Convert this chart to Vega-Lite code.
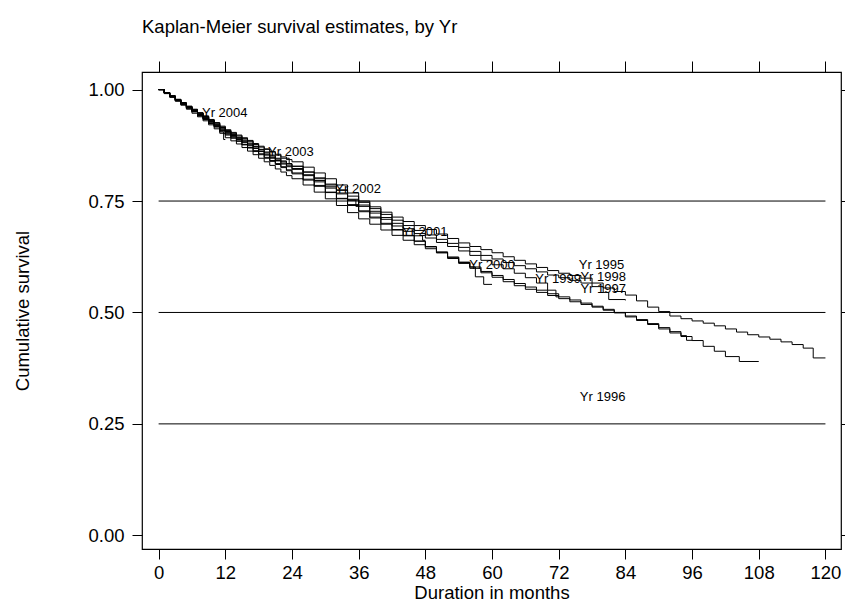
{
  "$schema": "https://vega.github.io/schema/vega-lite/v6.json",
  "autosize": {"type": "none"},
  "width": 699,
  "height": 477,
  "padding": {"left": 142, "top": 72, "right": 4, "bottom": 54},
  "background": "white",
  "title": {
    "text": "Kaplan-Meier survival estimates, by Yr",
    "anchor": "start",
    "frame": "group",
    "baseline": "alphabetic",
    "offset": 9,
    "fontSize": 18.5,
    "fontWeight": "normal",
    "font": "Liberation Sans",
    "color": "#000"
  },
  "datasets": {
    "grid": [{"g": 0.25}, {"g": 0.5}, {"g": 0.75}],
    "labels": [
      {"lab": "Yr 2004", "t": 7.8, "s": 0.947},
      {"lab": "Yr 2003", "t": 19.7, "s": 0.86},
      {"lab": "Yr 2002", "t": 31.8, "s": 0.776},
      {"lab": "Yr 2001", "t": 43.8, "s": 0.68},
      {"lab": "Yr 2000", "t": 55.9, "s": 0.606},
      {"lab": "Yr 1999", "t": 67.8, "s": 0.574},
      {"lab": "Yr 1998", "t": 75.9, "s": 0.579},
      {"lab": "Yr 1995", "t": 75.6, "s": 0.606},
      {"lab": "Yr 1997", "t": 75.9, "s": 0.552},
      {"lab": "Yr 1996", "t": 75.8, "s": 0.31}
    ],
    "km": [
      {"yr": "2004", "t": 0, "s": 1}, {"yr": "2004", "t": 1, "s": 0.992}, {"yr": "2004", "t": 2, "s": 0.983},
      {"yr": "2004", "t": 3, "s": 0.975}, {"yr": "2004", "t": 4, "s": 0.967}, {"yr": "2004", "t": 5, "s": 0.959},
      {"yr": "2004", "t": 6, "s": 0.951}, {"yr": "2004", "t": 7, "s": 0.944}, {"yr": "2004", "t": 8, "s": 0.938},
      {"yr": "2004", "t": 9, "s": 0.928}, {"yr": "2004", "t": 10, "s": 0.918}, {"yr": "2004", "t": 11, "s": 0.905},
      {"yr": "2004", "t": 11.7, "s": 0.888}, {"yr": "2004", "t": 12, "s": 0.888},

      {"yr": "2003", "t": 0, "s": 1}, {"yr": "2003", "t": 1, "s": 0.993}, {"yr": "2003", "t": 2, "s": 0.986},
      {"yr": "2003", "t": 3, "s": 0.978}, {"yr": "2003", "t": 4, "s": 0.97}, {"yr": "2003", "t": 5, "s": 0.962},
      {"yr": "2003", "t": 6, "s": 0.955}, {"yr": "2003", "t": 7, "s": 0.948}, {"yr": "2003", "t": 8, "s": 0.94},
      {"yr": "2003", "t": 9, "s": 0.932}, {"yr": "2003", "t": 10, "s": 0.925}, {"yr": "2003", "t": 11, "s": 0.916},
      {"yr": "2003", "t": 12, "s": 0.908}, {"yr": "2003", "t": 13, "s": 0.902}, {"yr": "2003", "t": 14, "s": 0.896},
      {"yr": "2003", "t": 15, "s": 0.89}, {"yr": "2003", "t": 16, "s": 0.884}, {"yr": "2003", "t": 17, "s": 0.877},
      {"yr": "2003", "t": 18, "s": 0.871}, {"yr": "2003", "t": 19, "s": 0.866}, {"yr": "2003", "t": 20, "s": 0.86},
      {"yr": "2003", "t": 21, "s": 0.853}, {"yr": "2003", "t": 22, "s": 0.846}, {"yr": "2003", "t": 23.5, "s": 0.834},
      {"yr": "2003", "t": 24, "s": 0.834},

      {"yr": "2002", "t": 0, "s": 1}, {"yr": "2002", "t": 1, "s": 0.993}, {"yr": "2002", "t": 2, "s": 0.985},
      {"yr": "2002", "t": 3, "s": 0.977}, {"yr": "2002", "t": 4, "s": 0.969}, {"yr": "2002", "t": 5, "s": 0.961},
      {"yr": "2002", "t": 6, "s": 0.953}, {"yr": "2002", "t": 7, "s": 0.946}, {"yr": "2002", "t": 8, "s": 0.938},
      {"yr": "2002", "t": 9, "s": 0.93}, {"yr": "2002", "t": 10, "s": 0.922}, {"yr": "2002", "t": 11, "s": 0.914},
      {"yr": "2002", "t": 12, "s": 0.906}, {"yr": "2002", "t": 13, "s": 0.899}, {"yr": "2002", "t": 14, "s": 0.892},
      {"yr": "2002", "t": 15, "s": 0.885}, {"yr": "2002", "t": 16, "s": 0.878}, {"yr": "2002", "t": 17, "s": 0.872},
      {"yr": "2002", "t": 18, "s": 0.865}, {"yr": "2002", "t": 19, "s": 0.858}, {"yr": "2002", "t": 20, "s": 0.851},
      {"yr": "2002", "t": 21, "s": 0.844}, {"yr": "2002", "t": 22, "s": 0.838}, {"yr": "2002", "t": 23, "s": 0.833},
      {"yr": "2002", "t": 24, "s": 0.828}, {"yr": "2002", "t": 26, "s": 0.815}, {"yr": "2002", "t": 28, "s": 0.8},
      {"yr": "2002", "t": 30, "s": 0.786}, {"yr": "2002", "t": 32, "s": 0.774}, {"yr": "2002", "t": 34, "s": 0.752},
      {"yr": "2002", "t": 35.5, "s": 0.738}, {"yr": "2002", "t": 36, "s": 0.738},

      {"yr": "2001", "t": 0, "s": 1}, {"yr": "2001", "t": 1, "s": 0.992}, {"yr": "2001", "t": 2, "s": 0.984},
      {"yr": "2001", "t": 3, "s": 0.976}, {"yr": "2001", "t": 4, "s": 0.968}, {"yr": "2001", "t": 5, "s": 0.96},
      {"yr": "2001", "t": 6, "s": 0.951}, {"yr": "2001", "t": 7, "s": 0.943}, {"yr": "2001", "t": 8, "s": 0.935},
      {"yr": "2001", "t": 9, "s": 0.927}, {"yr": "2001", "t": 10, "s": 0.919}, {"yr": "2001", "t": 11, "s": 0.91},
      {"yr": "2001", "t": 12, "s": 0.902}, {"yr": "2001", "t": 13, "s": 0.895}, {"yr": "2001", "t": 14, "s": 0.888},
      {"yr": "2001", "t": 15, "s": 0.881}, {"yr": "2001", "t": 16, "s": 0.874}, {"yr": "2001", "t": 17, "s": 0.868},
      {"yr": "2001", "t": 18, "s": 0.861}, {"yr": "2001", "t": 19, "s": 0.853}, {"yr": "2001", "t": 20, "s": 0.846},
      {"yr": "2001", "t": 21, "s": 0.84}, {"yr": "2001", "t": 22, "s": 0.833}, {"yr": "2001", "t": 23, "s": 0.827},
      {"yr": "2001", "t": 24, "s": 0.821}, {"yr": "2001", "t": 26, "s": 0.807}, {"yr": "2001", "t": 28, "s": 0.793},
      {"yr": "2001", "t": 30, "s": 0.779}, {"yr": "2001", "t": 32, "s": 0.766}, {"yr": "2001", "t": 34, "s": 0.752},
      {"yr": "2001", "t": 36, "s": 0.738}, {"yr": "2001", "t": 38, "s": 0.723}, {"yr": "2001", "t": 40, "s": 0.709},
      {"yr": "2001", "t": 42, "s": 0.694}, {"yr": "2001", "t": 44, "s": 0.682}, {"yr": "2001", "t": 46, "s": 0.672},
      {"yr": "2001", "t": 47.5, "s": 0.662}, {"yr": "2001", "t": 48, "s": 0.662},

      {"yr": "2000", "t": 0, "s": 1}, {"yr": "2000", "t": 1, "s": 0.991}, {"yr": "2000", "t": 2, "s": 0.983},
      {"yr": "2000", "t": 3, "s": 0.974}, {"yr": "2000", "t": 4, "s": 0.965}, {"yr": "2000", "t": 5, "s": 0.956},
      {"yr": "2000", "t": 6, "s": 0.947}, {"yr": "2000", "t": 7, "s": 0.939}, {"yr": "2000", "t": 8, "s": 0.93},
      {"yr": "2000", "t": 9, "s": 0.921}, {"yr": "2000", "t": 10, "s": 0.912}, {"yr": "2000", "t": 11, "s": 0.902},
      {"yr": "2000", "t": 12, "s": 0.892}, {"yr": "2000", "t": 13, "s": 0.885}, {"yr": "2000", "t": 14, "s": 0.878},
      {"yr": "2000", "t": 15, "s": 0.87}, {"yr": "2000", "t": 16, "s": 0.862}, {"yr": "2000", "t": 17, "s": 0.854},
      {"yr": "2000", "t": 18, "s": 0.846}, {"yr": "2000", "t": 19, "s": 0.838}, {"yr": "2000", "t": 20, "s": 0.83},
      {"yr": "2000", "t": 21, "s": 0.822}, {"yr": "2000", "t": 22, "s": 0.815}, {"yr": "2000", "t": 23, "s": 0.807},
      {"yr": "2000", "t": 24, "s": 0.8}, {"yr": "2000", "t": 26, "s": 0.786}, {"yr": "2000", "t": 28, "s": 0.77},
      {"yr": "2000", "t": 30, "s": 0.755}, {"yr": "2000", "t": 32, "s": 0.74}, {"yr": "2000", "t": 34, "s": 0.724},
      {"yr": "2000", "t": 36, "s": 0.71}, {"yr": "2000", "t": 38, "s": 0.698}, {"yr": "2000", "t": 40, "s": 0.685},
      {"yr": "2000", "t": 42, "s": 0.673}, {"yr": "2000", "t": 44, "s": 0.662}, {"yr": "2000", "t": 46, "s": 0.652},
      {"yr": "2000", "t": 48, "s": 0.643}, {"yr": "2000", "t": 50, "s": 0.634}, {"yr": "2000", "t": 52, "s": 0.624},
      {"yr": "2000", "t": 54, "s": 0.613}, {"yr": "2000", "t": 56, "s": 0.602}, {"yr": "2000", "t": 57, "s": 0.58},
      {"yr": "2000", "t": 58.5, "s": 0.563}, {"yr": "2000", "t": 60, "s": 0.563},

      {"yr": "1999", "t": 0, "s": 1}, {"yr": "1999", "t": 1, "s": 0.993}, {"yr": "1999", "t": 2, "s": 0.985},
      {"yr": "1999", "t": 3, "s": 0.977}, {"yr": "1999", "t": 4, "s": 0.969}, {"yr": "1999", "t": 5, "s": 0.96},
      {"yr": "1999", "t": 6, "s": 0.952}, {"yr": "1999", "t": 7, "s": 0.944}, {"yr": "1999", "t": 8, "s": 0.936},
      {"yr": "1999", "t": 9, "s": 0.928}, {"yr": "1999", "t": 10, "s": 0.92}, {"yr": "1999", "t": 11, "s": 0.912},
      {"yr": "1999", "t": 12, "s": 0.904}, {"yr": "1999", "t": 13, "s": 0.897}, {"yr": "1999", "t": 14, "s": 0.89},
      {"yr": "1999", "t": 15, "s": 0.883}, {"yr": "1999", "t": 16, "s": 0.876}, {"yr": "1999", "t": 17, "s": 0.869},
      {"yr": "1999", "t": 18, "s": 0.862}, {"yr": "1999", "t": 19, "s": 0.855}, {"yr": "1999", "t": 20, "s": 0.848},
      {"yr": "1999", "t": 21, "s": 0.841}, {"yr": "1999", "t": 22, "s": 0.835}, {"yr": "1999", "t": 23, "s": 0.829},
      {"yr": "1999", "t": 24, "s": 0.823}, {"yr": "1999", "t": 26, "s": 0.809}, {"yr": "1999", "t": 28, "s": 0.796},
      {"yr": "1999", "t": 30, "s": 0.782}, {"yr": "1999", "t": 32, "s": 0.768}, {"yr": "1999", "t": 34, "s": 0.754},
      {"yr": "1999", "t": 36, "s": 0.741}, {"yr": "1999", "t": 38, "s": 0.727}, {"yr": "1999", "t": 40, "s": 0.713},
      {"yr": "1999", "t": 42, "s": 0.7}, {"yr": "1999", "t": 44, "s": 0.688}, {"yr": "1999", "t": 46, "s": 0.677},
      {"yr": "1999", "t": 48, "s": 0.667}, {"yr": "1999", "t": 50, "s": 0.657}, {"yr": "1999", "t": 52, "s": 0.648},
      {"yr": "1999", "t": 54, "s": 0.638}, {"yr": "1999", "t": 56, "s": 0.628}, {"yr": "1999", "t": 58, "s": 0.617},
      {"yr": "1999", "t": 60, "s": 0.607}, {"yr": "1999", "t": 62, "s": 0.598}, {"yr": "1999", "t": 64, "s": 0.588},
      {"yr": "1999", "t": 66, "s": 0.578}, {"yr": "1999", "t": 68, "s": 0.566}, {"yr": "1999", "t": 70, "s": 0.55},
      {"yr": "1999", "t": 71.5, "s": 0.535}, {"yr": "1999", "t": 72, "s": 0.535},

      {"yr": "1998", "t": 0, "s": 1}, {"yr": "1998", "t": 1, "s": 0.993}, {"yr": "1998", "t": 2, "s": 0.986},
      {"yr": "1998", "t": 3, "s": 0.978}, {"yr": "1998", "t": 4, "s": 0.97}, {"yr": "1998", "t": 5, "s": 0.962},
      {"yr": "1998", "t": 6, "s": 0.954}, {"yr": "1998", "t": 7, "s": 0.947}, {"yr": "1998", "t": 8, "s": 0.939},
      {"yr": "1998", "t": 9, "s": 0.931}, {"yr": "1998", "t": 10, "s": 0.923}, {"yr": "1998", "t": 11, "s": 0.915},
      {"yr": "1998", "t": 12, "s": 0.907}, {"yr": "1998", "t": 13, "s": 0.9}, {"yr": "1998", "t": 14, "s": 0.893},
      {"yr": "1998", "t": 15, "s": 0.887}, {"yr": "1998", "t": 16, "s": 0.88}, {"yr": "1998", "t": 17, "s": 0.873},
      {"yr": "1998", "t": 18, "s": 0.866}, {"yr": "1998", "t": 19, "s": 0.86}, {"yr": "1998", "t": 20, "s": 0.853},
      {"yr": "1998", "t": 21, "s": 0.846}, {"yr": "1998", "t": 22, "s": 0.84}, {"yr": "1998", "t": 23, "s": 0.834},
      {"yr": "1998", "t": 24, "s": 0.828}, {"yr": "1998", "t": 26, "s": 0.815}, {"yr": "1998", "t": 28, "s": 0.802},
      {"yr": "1998", "t": 30, "s": 0.788}, {"yr": "1998", "t": 32, "s": 0.775}, {"yr": "1998", "t": 34, "s": 0.761},
      {"yr": "1998", "t": 36, "s": 0.747}, {"yr": "1998", "t": 38, "s": 0.733}, {"yr": "1998", "t": 40, "s": 0.72},
      {"yr": "1998", "t": 42, "s": 0.707}, {"yr": "1998", "t": 44, "s": 0.695}, {"yr": "1998", "t": 46, "s": 0.684},
      {"yr": "1998", "t": 48, "s": 0.674}, {"yr": "1998", "t": 50, "s": 0.664}, {"yr": "1998", "t": 52, "s": 0.655},
      {"yr": "1998", "t": 54, "s": 0.646}, {"yr": "1998", "t": 56, "s": 0.637}, {"yr": "1998", "t": 58, "s": 0.628},
      {"yr": "1998", "t": 60, "s": 0.62}, {"yr": "1998", "t": 62, "s": 0.612}, {"yr": "1998", "t": 64, "s": 0.605},
      {"yr": "1998", "t": 66, "s": 0.598}, {"yr": "1998", "t": 68, "s": 0.591}, {"yr": "1998", "t": 70, "s": 0.584},
      {"yr": "1998", "t": 72, "s": 0.578}, {"yr": "1998", "t": 74, "s": 0.572}, {"yr": "1998", "t": 76, "s": 0.566},
      {"yr": "1998", "t": 78, "s": 0.558}, {"yr": "1998", "t": 80, "s": 0.545}, {"yr": "1998", "t": 81, "s": 0.529},
      {"yr": "1998", "t": 84, "s": 0.527},

      {"yr": "1997", "t": 0, "s": 1}, {"yr": "1997", "t": 1, "s": 0.992}, {"yr": "1997", "t": 2, "s": 0.984},
      {"yr": "1997", "t": 3, "s": 0.975}, {"yr": "1997", "t": 4, "s": 0.967}, {"yr": "1997", "t": 5, "s": 0.958},
      {"yr": "1997", "t": 6, "s": 0.95}, {"yr": "1997", "t": 7, "s": 0.941}, {"yr": "1997", "t": 8, "s": 0.933},
      {"yr": "1997", "t": 9, "s": 0.924}, {"yr": "1997", "t": 10, "s": 0.916}, {"yr": "1997", "t": 11, "s": 0.907},
      {"yr": "1997", "t": 12, "s": 0.898}, {"yr": "1997", "t": 13, "s": 0.891}, {"yr": "1997", "t": 14, "s": 0.884},
      {"yr": "1997", "t": 15, "s": 0.876}, {"yr": "1997", "t": 16, "s": 0.869}, {"yr": "1997", "t": 17, "s": 0.861},
      {"yr": "1997", "t": 18, "s": 0.854}, {"yr": "1997", "t": 19, "s": 0.846}, {"yr": "1997", "t": 20, "s": 0.839},
      {"yr": "1997", "t": 21, "s": 0.832}, {"yr": "1997", "t": 22, "s": 0.825}, {"yr": "1997", "t": 23, "s": 0.818},
      {"yr": "1997", "t": 24, "s": 0.811}, {"yr": "1997", "t": 26, "s": 0.797}, {"yr": "1997", "t": 28, "s": 0.783},
      {"yr": "1997", "t": 30, "s": 0.769}, {"yr": "1997", "t": 32, "s": 0.755}, {"yr": "1997", "t": 34, "s": 0.74},
      {"yr": "1997", "t": 36, "s": 0.726}, {"yr": "1997", "t": 38, "s": 0.712}, {"yr": "1997", "t": 40, "s": 0.698},
      {"yr": "1997", "t": 42, "s": 0.685}, {"yr": "1997", "t": 44, "s": 0.672}, {"yr": "1997", "t": 46, "s": 0.66},
      {"yr": "1997", "t": 48, "s": 0.648}, {"yr": "1997", "t": 50, "s": 0.636}, {"yr": "1997", "t": 52, "s": 0.624},
      {"yr": "1997", "t": 54, "s": 0.612}, {"yr": "1997", "t": 56, "s": 0.602}, {"yr": "1997", "t": 58, "s": 0.592},
      {"yr": "1997", "t": 60, "s": 0.583}, {"yr": "1997", "t": 62, "s": 0.574}, {"yr": "1997", "t": 64, "s": 0.565},
      {"yr": "1997", "t": 66, "s": 0.557}, {"yr": "1997", "t": 68, "s": 0.55}, {"yr": "1997", "t": 70, "s": 0.542},
      {"yr": "1997", "t": 72, "s": 0.535}, {"yr": "1997", "t": 74, "s": 0.528}, {"yr": "1997", "t": 76, "s": 0.521},
      {"yr": "1997", "t": 78, "s": 0.514}, {"yr": "1997", "t": 80, "s": 0.507}, {"yr": "1997", "t": 82, "s": 0.5},
      {"yr": "1997", "t": 84, "s": 0.492}, {"yr": "1997", "t": 86, "s": 0.484}, {"yr": "1997", "t": 88, "s": 0.475},
      {"yr": "1997", "t": 90, "s": 0.466}, {"yr": "1997", "t": 92, "s": 0.457}, {"yr": "1997", "t": 94, "s": 0.448},
      {"yr": "1997", "t": 95, "s": 0.4375}, {"yr": "1997", "t": 96, "s": 0.4375},

      {"yr": "1996", "t": 0, "s": 1}, {"yr": "1996", "t": 1, "s": 0.993}, {"yr": "1996", "t": 2, "s": 0.985},
      {"yr": "1996", "t": 3, "s": 0.976}, {"yr": "1996", "t": 4, "s": 0.968}, {"yr": "1996", "t": 5, "s": 0.959},
      {"yr": "1996", "t": 6, "s": 0.951}, {"yr": "1996", "t": 7, "s": 0.942}, {"yr": "1996", "t": 8, "s": 0.934},
      {"yr": "1996", "t": 9, "s": 0.925}, {"yr": "1996", "t": 10, "s": 0.917}, {"yr": "1996", "t": 11, "s": 0.908},
      {"yr": "1996", "t": 12, "s": 0.9}, {"yr": "1996", "t": 13, "s": 0.892}, {"yr": "1996", "t": 14, "s": 0.885},
      {"yr": "1996", "t": 15, "s": 0.877}, {"yr": "1996", "t": 16, "s": 0.87}, {"yr": "1996", "t": 17, "s": 0.863},
      {"yr": "1996", "t": 18, "s": 0.856}, {"yr": "1996", "t": 19, "s": 0.848}, {"yr": "1996", "t": 20, "s": 0.841},
      {"yr": "1996", "t": 21, "s": 0.834}, {"yr": "1996", "t": 22, "s": 0.827}, {"yr": "1996", "t": 23, "s": 0.82},
      {"yr": "1996", "t": 24, "s": 0.813}, {"yr": "1996", "t": 26, "s": 0.799}, {"yr": "1996", "t": 28, "s": 0.785},
      {"yr": "1996", "t": 30, "s": 0.77}, {"yr": "1996", "t": 32, "s": 0.756}, {"yr": "1996", "t": 34, "s": 0.742},
      {"yr": "1996", "t": 36, "s": 0.728}, {"yr": "1996", "t": 38, "s": 0.714}, {"yr": "1996", "t": 40, "s": 0.7},
      {"yr": "1996", "t": 42, "s": 0.686}, {"yr": "1996", "t": 44, "s": 0.673}, {"yr": "1996", "t": 46, "s": 0.66},
      {"yr": "1996", "t": 48, "s": 0.647}, {"yr": "1996", "t": 50, "s": 0.634}, {"yr": "1996", "t": 52, "s": 0.621},
      {"yr": "1996", "t": 54, "s": 0.61}, {"yr": "1996", "t": 56, "s": 0.599}, {"yr": "1996", "t": 58, "s": 0.589},
      {"yr": "1996", "t": 60, "s": 0.579}, {"yr": "1996", "t": 62, "s": 0.569}, {"yr": "1996", "t": 64, "s": 0.56},
      {"yr": "1996", "t": 66, "s": 0.552}, {"yr": "1996", "t": 68, "s": 0.545}, {"yr": "1996", "t": 70, "s": 0.538},
      {"yr": "1996", "t": 72, "s": 0.531}, {"yr": "1996", "t": 74, "s": 0.524}, {"yr": "1996", "t": 76, "s": 0.518},
      {"yr": "1996", "t": 78, "s": 0.512}, {"yr": "1996", "t": 80, "s": 0.505}, {"yr": "1996", "t": 82, "s": 0.499},
      {"yr": "1996", "t": 84, "s": 0.49}, {"yr": "1996", "t": 86, "s": 0.482}, {"yr": "1996", "t": 88, "s": 0.473},
      {"yr": "1996", "t": 90, "s": 0.463}, {"yr": "1996", "t": 92, "s": 0.454}, {"yr": "1996", "t": 94, "s": 0.446},
      {"yr": "1996", "t": 96, "s": 0.437}, {"yr": "1996", "t": 98, "s": 0.424}, {"yr": "1996", "t": 100, "s": 0.413},
      {"yr": "1996", "t": 102, "s": 0.401}, {"yr": "1996", "t": 104.5, "s": 0.39}, {"yr": "1996", "t": 108, "s": 0.39},

      {"yr": "1995", "t": 0, "s": 1}, {"yr": "1995", "t": 1, "s": 0.993}, {"yr": "1995", "t": 2, "s": 0.986},
      {"yr": "1995", "t": 3, "s": 0.978}, {"yr": "1995", "t": 4, "s": 0.971}, {"yr": "1995", "t": 5, "s": 0.963},
      {"yr": "1995", "t": 6, "s": 0.956}, {"yr": "1995", "t": 7, "s": 0.948}, {"yr": "1995", "t": 8, "s": 0.941},
      {"yr": "1995", "t": 9, "s": 0.933}, {"yr": "1995", "t": 10, "s": 0.926}, {"yr": "1995", "t": 11, "s": 0.918},
      {"yr": "1995", "t": 12, "s": 0.91}, {"yr": "1995", "t": 13, "s": 0.904}, {"yr": "1995", "t": 14, "s": 0.898},
      {"yr": "1995", "t": 15, "s": 0.892}, {"yr": "1995", "t": 16, "s": 0.886}, {"yr": "1995", "t": 17, "s": 0.879},
      {"yr": "1995", "t": 18, "s": 0.873}, {"yr": "1995", "t": 19, "s": 0.867}, {"yr": "1995", "t": 20, "s": 0.861},
      {"yr": "1995", "t": 21, "s": 0.855}, {"yr": "1995", "t": 22, "s": 0.849}, {"yr": "1995", "t": 23, "s": 0.843},
      {"yr": "1995", "t": 24, "s": 0.838}, {"yr": "1995", "t": 26, "s": 0.826}, {"yr": "1995", "t": 28, "s": 0.813},
      {"yr": "1995", "t": 30, "s": 0.8}, {"yr": "1995", "t": 32, "s": 0.786}, {"yr": "1995", "t": 34, "s": 0.768},
      {"yr": "1995", "t": 36, "s": 0.75}, {"yr": "1995", "t": 38, "s": 0.737}, {"yr": "1995", "t": 40, "s": 0.725},
      {"yr": "1995", "t": 42, "s": 0.714}, {"yr": "1995", "t": 44, "s": 0.704}, {"yr": "1995", "t": 46, "s": 0.695},
      {"yr": "1995", "t": 48, "s": 0.686}, {"yr": "1995", "t": 50, "s": 0.676}, {"yr": "1995", "t": 52, "s": 0.666},
      {"yr": "1995", "t": 54, "s": 0.656}, {"yr": "1995", "t": 56, "s": 0.648}, {"yr": "1995", "t": 58, "s": 0.641},
      {"yr": "1995", "t": 60, "s": 0.634}, {"yr": "1995", "t": 62, "s": 0.625}, {"yr": "1995", "t": 64, "s": 0.617},
      {"yr": "1995", "t": 66, "s": 0.609}, {"yr": "1995", "t": 68, "s": 0.601}, {"yr": "1995", "t": 70, "s": 0.594},
      {"yr": "1995", "t": 72, "s": 0.588}, {"yr": "1995", "t": 74, "s": 0.583}, {"yr": "1995", "t": 76, "s": 0.577},
      {"yr": "1995", "t": 78, "s": 0.566}, {"yr": "1995", "t": 80, "s": 0.555}, {"yr": "1995", "t": 82, "s": 0.547},
      {"yr": "1995", "t": 84, "s": 0.539}, {"yr": "1995", "t": 86, "s": 0.526}, {"yr": "1995", "t": 88, "s": 0.512},
      {"yr": "1995", "t": 90, "s": 0.502}, {"yr": "1995", "t": 92, "s": 0.492}, {"yr": "1995", "t": 94, "s": 0.486},
      {"yr": "1995", "t": 96, "s": 0.481}, {"yr": "1995", "t": 98, "s": 0.476}, {"yr": "1995", "t": 100, "s": 0.47},
      {"yr": "1995", "t": 102, "s": 0.463}, {"yr": "1995", "t": 104, "s": 0.456}, {"yr": "1995", "t": 106, "s": 0.45},
      {"yr": "1995", "t": 108, "s": 0.445}, {"yr": "1995", "t": 110, "s": 0.44}, {"yr": "1995", "t": 112, "s": 0.434},
      {"yr": "1995", "t": 114, "s": 0.428}, {"yr": "1995", "t": 116, "s": 0.42}, {"yr": "1995", "t": 117.8, "s": 0.398},
      {"yr": "1995", "t": 120, "s": 0.398}
    ]
  },
  "resolve": {"axis": {"x": "independent", "y": "independent"}},
  "layer": [
    {
      "data": {"name": "grid"},
      "mark": {"type": "rule", "color": "#000", "strokeWidth": 1},
      "encoding": {
        "x": {
          "datum": 0,
          "type": "quantitative",
          "scale": {"domain": [-2.99, 122.8], "nice": false, "zero": false},
          "axis": {
            "orient": "top",
            "values": [0, 12, 24, 36, 48, 60, 72, 84, 96, 108, 120],
            "tickSize": 11,
            "labels": false,
            "domain": false,
            "grid": false,
            "title": null
          }
        },
        "x2": {"datum": 120},
        "y": {
          "field": "g",
          "type": "quantitative",
          "scale": {"domain": [-0.0307, 1.0395], "nice": false, "zero": false},
          "axis": {
            "orient": "right",
            "values": [0, 0.25, 0.5, 0.75, 1],
            "tickSize": 10,
            "labels": false,
            "domain": false,
            "grid": false,
            "title": null
          }
        }
      }
    },
    {
      "data": {"name": "km"},
      "mark": {"type": "line", "interpolate": "step-after", "color": "#000", "strokeWidth": 1},
      "encoding": {
        "x": {
          "field": "t",
          "type": "quantitative",
          "scale": {"domain": [-2.99, 122.8], "nice": false, "zero": false},
          "axis": {
            "orient": "bottom",
            "values": [0, 12, 24, 36, 48, 60, 72, 84, 96, 108, 120],
            "tickSize": 10,
            "labelPadding": 4,
            "domain": false,
            "grid": false,
            "title": "Duration in months",
            "titlePadding": 2
          }
        },
        "y": {
          "field": "s",
          "type": "quantitative",
          "scale": {"domain": [-0.0307, 1.0395], "nice": false, "zero": false},
          "axis": {
            "orient": "left",
            "values": [0, 0.25, 0.5, 0.75, 1],
            "format": ".2f",
            "tickSize": 10,
            "labelPadding": 8,
            "domain": false,
            "grid": false,
            "title": "Cumulative survival",
            "titlePadding": 55
          }
        },
        "detail": {"field": "yr", "type": "nominal"}
      }
    },
    {
      "data": {"name": "labels"},
      "mark": {"type": "text", "align": "left", "baseline": "middle", "fontSize": 13, "font": "Liberation Sans", "color": "#000"},
      "encoding": {
        "x": {"field": "t", "type": "quantitative", "scale": {"domain": [-2.99, 122.8], "nice": false, "zero": false}, "axis": null},
        "y": {"field": "s", "type": "quantitative", "scale": {"domain": [-0.0307, 1.0395], "nice": false, "zero": false}, "axis": null},
        "text": {"field": "lab"}
      }
    }
  ],
  "config": {
    "view": {"stroke": "#000", "strokeWidth": 1.2},
    "axis": {
      "labelFont": "Liberation Sans",
      "labelFontSize": 18.5,
      "labelColor": "#000",
      "titleFont": "Liberation Sans",
      "titleFontSize": 18.5,
      "titleFontWeight": "normal",
      "titleColor": "#000",
      "tickColor": "#000",
      "tickWidth": 1
    }
  }
}
